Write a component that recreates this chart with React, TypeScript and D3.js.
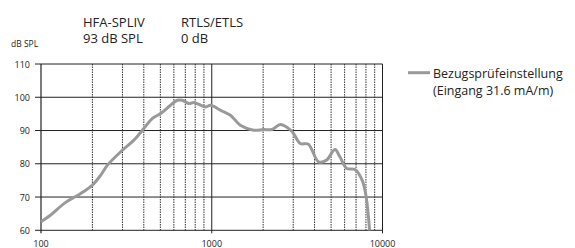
import React from "react";
import * as d3 from "d3";

// frequency response
const freqs = [100, 114, 137, 171, 200, 224, 245, 300, 350, 400, 448, 502, 574, 628, 672, 735, 786, 921, 985, 1125, 1287, 1470, 1760, 2010, 2250, 2530, 2950, 3300, 3680, 4220, 4700, 5270, 5630, 6180, 6900, 7600, 8020, 8400];
const levels = [62.6, 64.6, 68.1, 71.1, 73.6, 76.6, 79.6, 84.1, 87.1, 90.6, 93.6, 95.1, 97.6, 99.1, 99.1, 98.1, 98.4, 97.1, 97.6, 96.1, 94.6, 91.6, 90.1, 90.3, 90.3, 91.8, 89.7, 86.1, 85.9, 80.6, 81.1, 84.3, 82.1, 78.6, 78.3, 75.1, 70.1, 60];

const yTicks = [60, 70, 80, 90, 100, 110];
const xLabels = [100, 1000, 10000];
const xGrid = [200, 300, 400, 500, 600, 700, 800, 900, 2000, 3000, 4000, 5000, 6000, 7000, 8000, 9000];
const headers = [
  { lines: ["HFA-SPLIV", "93 dB SPL"], x: 83 },
  { lines: ["RTLS/ETLS", "0 dB"], x: 181 },
];
const legendLines = ["Bezugsprüfeinstellung", "(Eingang 31.6 mA/m)"];

const W = 575, H = 248;
const left = 41, right = 382.5, top = 64, bottom = 230.3;
const font = "'Open Sans', 'Noto Sans', sans-serif";
const curveColor = "#999";

export default function App() {
  const x = d3.scaleLog().domain([100, 10000]).range([left, right]);
  const y = d3.scaleLinear().domain([60, 110]).range([bottom, top]);
  const line = d3.line<number>()
    .x((_, i) => x(freqs[i]))
    .y((d) => y(d))
    .curve(d3.curveCatmullRom);

  return (
    <svg width={W} height={H} style={{ position: "absolute", left: 0, top: 0, background: "#fff" }} fontFamily={font}>
      {/* header */}
      {headers.map((h) => (
        <g key={h.x}>
          <text x={h.x} y={26.5} fontSize={13} fill="#222">{h.lines[0]}</text>
          <text x={h.x} y={43} fontSize={13} fill="#222">{h.lines[1]}</text>
        </g>
      ))}
      <text x={11} y={46.5} fontSize={8.5} fill="#222">dB SPL</text>

      {/* vertical grid */}
      {xGrid.map((f) => (
        <line key={f} x1={x(f)} x2={x(f)} y1={top} y2={bottom} stroke="#333" strokeWidth={1} strokeDasharray="1.5,1" />
      ))}
      <line x1={x(1000)} x2={x(1000)} y1={top} y2={bottom + 3} stroke="#222" strokeWidth={1} />

      {/* horizontal grid + y ticks */}
      {yTicks.map((v) => (
        <g key={v}>
          <line x1={left - 6} x2={right} y1={y(v)} y2={y(v)} stroke="#222" strokeWidth={1} />
          <text x={30} y={y(v) + 3.5} fontSize={9} textAnchor="end" fill="#222">{v}</text>
        </g>
      ))}

      {/* frame */}
      <line x1={left} x2={left} y1={top} y2={bottom + 3} stroke="#222" strokeWidth={1.2} />
      <line x1={right} x2={right} y1={top} y2={bottom + 3} stroke="#222" strokeWidth={1} />

      {/* x labels */}
      {xLabels.map((f) => (
        <text key={f} x={x(f)} y={246.5} fontSize={9} textAnchor="middle" fill="#222">{f}</text>
      ))}

      {/* curve */}
      <path d={line(levels) ?? ""} fill="none" stroke={curveColor} strokeWidth={3} strokeLinejoin="round" />

      {/* legend */}
      <line x1={408} x2={430} y1={72.7} y2={72.7} stroke={curveColor} strokeWidth={3} />
      {legendLines.map((t, i) => (
        <text key={t} x={433} y={78 + i * 17} fontSize={12.5} fill="#222">{t}</text>
      ))}
    </svg>
  );
}
